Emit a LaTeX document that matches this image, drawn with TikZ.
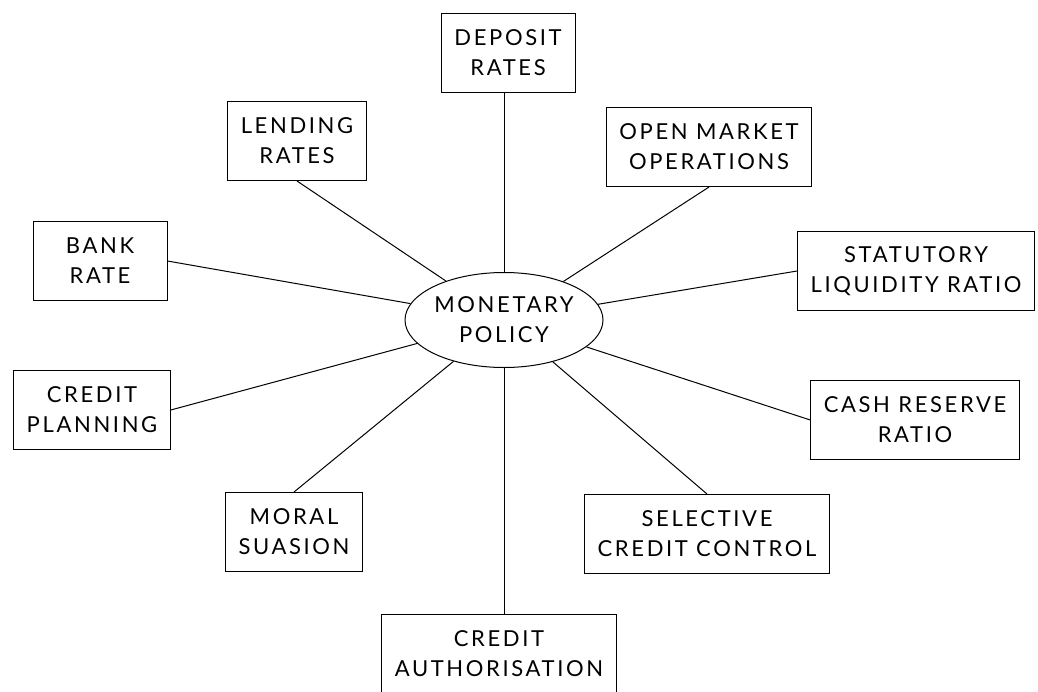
\documentclass[tikz,border=0pt]{standalone}
\usepackage{fontspec}
\setmainfont{Lato}[LetterSpace=12]
\usetikzlibrary{shapes.geometric}

\tikzset{
    box/.style={draw, line width=1pt, align=center, inner xsep=13pt, minimum width=134pt, minimum height=79pt},
    hub/.style={draw, ellipse, line width=1pt, align=center, inner xsep=-4pt, inner ysep=0pt, minimum width=198pt, minimum height=95pt},
    spoke/.style={line width=1pt}
}

\begin{document}
\begin{tikzpicture}[x=1pt,y=-1pt,font=\fontsize{22}{30}\selectfont]
    \useasboundingbox (0,0) rectangle (1038,691);

    \node[hub] (mp) at (504,320) {MONETARY\\POLICY};

    % the instruments round the hub
    \foreach \n/\x/\y/\t in {dep/508/53/{DEPOSIT\\RATES}, lend/297/141/{LENDING\\RATES},
            omo/709/147/{OPEN MARKET\\OPERATIONS}, bank/100/261/{BANK\\RATE},
            slr/916/271/{STATUTORY\\LIQUIDITY RATIO}, cp/92/410/{CREDIT\\PLANNING},
            crr/915/420/{CASH RESERVE\\RATIO}, ms/294/532/{MORAL\\SUASION},
            scc/707/534/{SELECTIVE\\CREDIT CONTROL}, ca/499/654/{CREDIT\\AUTHORISATION}} {
        \node[box] (\n) at (\x,\y) {\t};
    }

    % spokes
    \foreach \n/\a in {lend/south, bank/east, omo/south, slr/west, cp/east, ms/north, scc/north, crr/west} {
        \draw[spoke] (\n.\a) -- (mp);
    }
    \draw[spoke] (mp.north) -- (mp.north |- dep.south);
    \draw[spoke] (mp.south) -- (mp.south |- ca.north);
\end{tikzpicture}
\end{document}
